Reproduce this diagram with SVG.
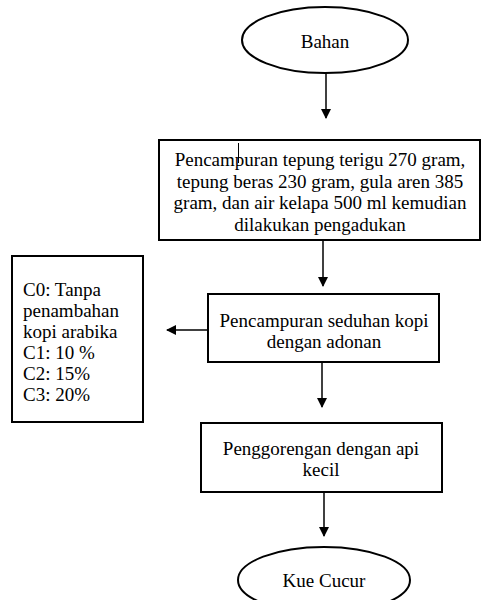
<svg xmlns="http://www.w3.org/2000/svg" width="482" height="600" viewBox="0 0 482 600">
<style>
text{font-family:"Liberation Serif","Times New Roman",serif;font-size:19px;fill:#000}
.c{text-anchor:middle}
.s{fill:#fff;stroke:#000;stroke-width:2}
.e{stroke:#000;stroke-width:1.5;fill:none}
</style>
<defs>
<marker id="a" viewBox="0 0 10 10" refX="9" refY="5" markerWidth="10" markerHeight="10" markerUnits="userSpaceOnUse" orient="auto">
<path d="M0,0 L10,5 L0,10 z" fill="#000"/>
</marker>
</defs>
<rect width="482" height="600" fill="#fff"/>
<g id="connectors">
<line class="e" x1="326" y1="73" x2="326" y2="118" marker-end="url(#a)"/>
<line class="e" x1="323" y1="240" x2="323" y2="286" marker-end="url(#a)"/>
<line class="e" x1="208" y1="330" x2="167" y2="330" marker-end="url(#a)"/>
<line class="e" x1="322" y1="362" x2="322" y2="407" marker-end="url(#a)"/>
<line class="e" x1="324" y1="492" x2="324" y2="536" marker-end="url(#a)"/>
</g>
<g id="bahan">
<ellipse class="s" cx="325" cy="40" rx="83" ry="33"/>
<text class="c" x="325" y="48">Bahan</text>
</g>
<g id="pencampuran1">
<rect class="s" x="159" y="140" width="321" height="100"/>
<text class="c" x="320" y="166">Pencampuran tepung terigu 270 gram,</text>
<text class="c" x="320" y="188">tepung beras 230 gram, gula aren 385</text>
<text class="c" x="320" y="209">gram, dan air kelapa 500 ml kemudian</text>
<text class="c" x="320" y="231">dilakukan pengadukan</text>
<line x1="238.5" y1="143" x2="238.5" y2="163" stroke="#000" stroke-width="1"/>
</g>
<g id="perlakuan">
<rect class="s" x="12" y="256" width="131" height="166"/>
<text x="23" y="296">C0: Tanpa</text>
<text x="23" y="317">penambahan</text>
<text x="23" y="338">kopi arabika</text>
<text x="23" y="359">C1: 10 %</text>
<text x="23" y="380">C2: 15%</text>
<text x="23" y="401">C3: 20%</text>
</g>
<g id="pencampuran2">
<rect class="s" x="208" y="294" width="231" height="68"/>
<text class="c" x="324" y="327">Pencampuran seduhan kopi</text>
<text class="c" x="324" y="348">dengan adonan</text>
</g>
<g id="penggorengan">
<rect class="s" x="201" y="423" width="241" height="69"/>
<text class="c" x="321" y="455">Penggorengan dengan api</text>
<text class="c" x="321" y="476">kecil</text>
</g>
<g id="kuecucur">
<ellipse class="s" cx="324" cy="580" rx="86" ry="33"/>
<text class="c" x="324" y="587">Kue Cucur</text>
</g>
</svg>
